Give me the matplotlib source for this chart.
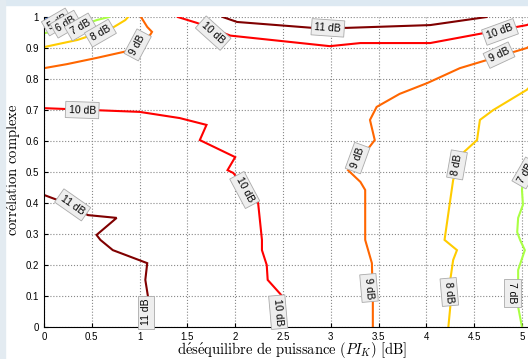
import matplotlib.pyplot as plt
from matplotlib.patches import Rectangle

plt.rcParams['mathtext.fontset'] = 'cm'
plt.rcParams['font.family'] = ['Liberation Sans', 'DejaVu Sans']

# colour of each iso-level (dB)
level_colors = {4: '#1f6fff', 5: '#00e0ff', 6: '#44ee88', 7: '#aaff44',
                8: '#ffcc00', 9: '#ff6600', 10: '#ff0000', 11: '#800000'}

# contour lines: x = PI_K (dB), y = correlation
c4_x = [0, 0.08]
c4_y = [0.99, 1.0]
c5_x = [0, 0.1, 0.25]
c5_y = [0.981, 0.99, 1.0]
c6_x = [0, 0.15, 0.3, 0.45]
c6_y = [0.968, 0.975, 0.988, 1.0]
c7a_x = [0, 0.15, 0.35, 0.55, 0.68]
c7a_y = [0.948, 0.955, 0.968, 0.99, 1.0]
c7b_x = [5.08, 5.01, 5.0, 5.01, 4.96, 4.95, 4.98, 5.03, 4.96, 4.96, 5.0]
c7b_y = [0.52, 0.474, 0.442, 0.394, 0.352, 0.306, 0.281, 0.248, 0.184, 0.065, 0.0]
c8a_x = [0, 0.35, 0.7, 0.85, 0.88]
c8a_y = [0.903, 0.926, 0.962, 0.99, 1.0]
c8b_x = [5.1, 5.05, 4.70, 4.56, 4.53, 4.38, 4.28, 4.25, 4.19, 4.32, 4.28, 4.25, 4.25, 4.23]
c8b_y = [0.78, 0.765, 0.70, 0.668, 0.603, 0.561, 0.474, 0.41, 0.281, 0.248, 0.216, 0.152, 0.065, 0.0]
c9a_x = [0, 0.24, 0.55, 0.87, 1.11, 1.13, 1.08, 1.015]
c9a_y = [0.835, 0.848, 0.868, 0.890, 0.942, 0.952, 0.968, 1.0]
c9b_x = [5.1, 5.05, 4.63, 4.35, 4.01, 3.72, 3.48, 3.41, 3.46, 3.38, 3.18, 3.31, 3.36,
         3.36, 3.43, 3.44, 3.44]
c9b_y = [0.91, 0.90, 0.861, 0.835, 0.787, 0.752, 0.71, 0.668, 0.603, 0.571, 0.506,
         0.468, 0.442, 0.281, 0.206, 0.087, 0.0]
c10a_x = [1.40, 1.60, 1.95, 2.99, 3.31, 4.04, 5.05, 5.1]
c10a_y = [1.0, 0.981, 0.94, 0.906, 0.916, 0.916, 0.974, 0.98]
c10b_x = [0, 1.0, 1.42, 1.70, 1.63, 2.0, 1.92, 1.98, 2.24, 2.28, 2.28, 2.33, 2.34, 2.50, 2.51]
c10b_y = [0.706, 0.694, 0.674, 0.652, 0.603, 0.548, 0.506, 0.497, 0.40, 0.281, 0.248,
          0.2, 0.152, 0.097, 0.0]
c11a_x = [1.87, 2.02, 2.81, 3.17, 4.04, 4.63]
c11a_y = [1.0, 0.984, 0.965, 0.965, 0.974, 1.0]
c11b_x = [0, 0.2, 0.46, 0.76, 0.55, 0.59, 0.72, 1.08, 1.06, 1.09, 1.08]
c11b_y = [0.426, 0.403, 0.361, 0.352, 0.297, 0.281, 0.248, 0.206, 0.152, 0.094, 0.0]

lines = [(4, c4_x, c4_y), (5, c5_x, c5_y), (6, c6_x, c6_y),
         (7, c7a_x, c7a_y), (7, c7b_x, c7b_y),
         (8, c8a_x, c8a_y), (8, c8b_x, c8b_y),
         (9, c9a_x, c9a_y), (9, c9b_x, c9b_y),
         (10, c10a_x, c10a_y), (10, c10b_x, c10b_y),
         (11, c11a_x, c11a_y), (11, c11b_x, c11b_y)]

# contour labels: level, position, rotation
lab_level = [5, 6, 7, 8, 9, 10, 11, 10, 9, 10, 11, 10, 9, 8, 7, 11, 10, 9, 8, 7]
lab_x = [0.14, 0.23, 0.38, 0.59, 0.98, 1.77, 2.97, 4.77, 4.76, 0.40, 0.30, 2.10,
         3.28, 4.32, 5.04, 1.07, 2.45, 3.40, 4.24, 4.90]
lab_y = [0.984, 0.977, 0.968, 0.948, 0.91, 0.948, 0.965, 0.952, 0.877, 0.70, 0.394,
         0.442, 0.545, 0.523, 0.497, 0.048, 0.048, 0.126, 0.113, 0.11]
lab_rot = [30, 30, 30, 30, 62, -42, -4, 20, 25, -2, -35, -62, 70, 80, 60,
           90, -85, -85, -85, -90]

fig = plt.figure(figsize=(5.28, 3.59), dpi=100)
fig.patches.append(Rectangle((0, 0.986), 1, 0.014, transform=fig.transFigure,
                             color='#dde9f2', zorder=0))
fig.patches.append(Rectangle((0, 0), 0.0095, 1, transform=fig.transFigure,
                             color='#e3ebf1', zorder=0))

ax = fig.add_axes([0.0833, 0.0891, 0.9596, 0.8635])
for lvl, xs, ys in lines:
    ax.plot(xs, ys, color=level_colors[lvl], lw=1.5, zorder=2, solid_joinstyle='miter')

for lvl, x, y, r in zip(lab_level, lab_x, lab_y, lab_rot):
    ax.text(x, y, f'{lvl} dB', fontsize=7.5, rotation=r, rotation_mode='anchor',
            ha='center', va='center', zorder=3,
            bbox=dict(boxstyle='square,pad=0.3', fc='#eeeeee', ec='#aaaaaa', lw=0.6))

ax.set_xlim(0, 5.3)
ax.set_ylim(0, 1)
ax.set_xticks([0, 0.5, 1, 1.5, 2, 2.5, 3, 3.5, 4, 4.5, 5])
ax.set_xticklabels(['0', '0.5', '1', '1.5', '2', '2.5', '3', '3.5', '4', '4.5', '5'])
ax.set_yticks([i / 10 for i in range(11)])
ax.set_yticklabels(['0', '0.1', '0.2', '0.3', '0.4', '0.5', '0.6', '0.7', '0.8', '0.9', '1'])
ax.tick_params(direction='in', labelsize=7, length=3, width=0.8)
ax.grid(True, linestyle=':', color='#888888', lw=0.8)
ax.spines['top'].set_visible(False)
ax.spines['right'].set_visible(False)

ax.set_xlabel(r'$\mathrm{d\acute{e}s\acute{e}quilibre\ de\ puissance\ (}PI_K\mathrm{)\ [dB]}$',
              fontsize=10.5)
ax.set_ylabel(r'$\mathrm{corr\acute{e}lation\ complexe}$', fontsize=10.5)
ax.xaxis.set_label_coords(0.4905, -0.041)
ax.yaxis.set_label_coords(-0.041, 0.506)

fig.savefig('out.png', dpi=100)
